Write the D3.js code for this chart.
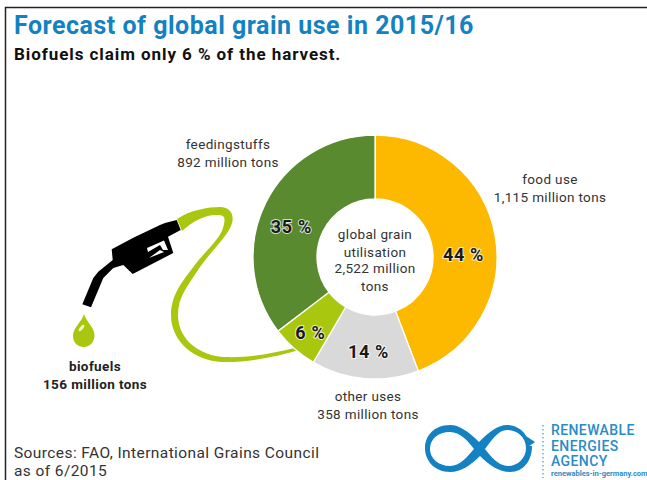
<!DOCTYPE html>
<html>
<head>
<meta charset="utf-8">
<script src="https://cdnjs.cloudflare.com/ajax/libs/d3/7.8.5/d3.min.js"></script>
<style>
html,body{margin:0;padding:0;background:#fff}
svg{display:block}
text{font-family:Roboto,"Noto Sans",sans-serif}
</style>
</head>
<body>
<svg id="chart" width="647" height="480"></svg>
<script>
// Grain use in million tons, clockwise from twelve o'clock
const categories = ["food use", "other uses", "biofuels", "feedingstuffs"];
const tons = [1115, 358, 156, 892];
const shares = ["44 %", "14 %", "6 %", "35 %"];
const tonLabels = ["1,115 million tons", "358 million tons", "156 million tons", "892 million tons"];
const hubLines = ["global grain", "utilisation", "2,522 million", "tons"];
const sourceLines = ["Sources: FAO, International Grains Council", "as of 6/2015"];
const agencyLines = ["RENEWABLE", "ENERGIES", "AGENCY"];

const sliceColors = ["#fdb900", "#d9d9d9", "#a9c70f", "#598a30"];
const blue = "#1381c2", ink = "#111", grey = "#333", hoseGreen = "#a9c70f";

const svg = d3.select("#chart");
const put = (s, x, y, size, opts = {}) => svg.append("text")
  .attr("x", x).attr("y", y).attr("font-size", size)
  .attr("font-weight", opts.weight || 400)
  .attr("fill", opts.fill || grey)
  .attr("text-anchor", opts.anchor || "start")
  .attr("letter-spacing", opts.spacing || 0)
  .text(s);

// Frame along the top and left edges
svg.append("path").attr("d", "M5.5,480V7.5H647").attr("fill", "none").attr("stroke", "#222").attr("stroke-width", 1.5);

// Headings
put("Forecast of global grain use in 2015/16", 14, 34, 25, {weight: 700, fill: blue, spacing: 0.5});
put("Biofuels claim only 6 % of the harvest.", 14, 60, 17, {weight: 700, fill: ink, spacing: 0.93});

// Donut
const cx = 375, cy = 257, outer = 122, inner = 58;
const pie = d3.pie().value(d => d).sort(null);
const arc = d3.arc().innerRadius(inner).outerRadius(outer);
const arcs = pie(tons);
const donut = svg.append("g").attr("transform", `translate(${cx},${cy})`);

// Hose runs from the nozzle into the biofuels slice, so it goes under the donut
svg.append("path").attr("fill", hoseGreen).attr("d",
  "M177,219 C190,210 208,207 220,207 C232,207 235,217 231,226 C226,238 210,252 198,270 C186,288 178,298 178,315 " +
  "C178,340 200,356 225,357 C250,358 275,353 298,347 L299,350 C275,357 245,363 222,362 C195,361 171,342 171,315 " +
  "C171,295 182,282 194,266 C206,250 222,238 224,224 C226,215 222,215 216,215 C205,215 193,221 182,231 Z");
svg.node().appendChild(donut.node());

donut.selectAll("path").data(arcs).join("path")
  .attr("d", arc)
  .attr("fill", (d, i) => sliceColors[i])
  .attr("stroke", "#fff").attr("stroke-width", 1.3);

// Percentage labels sit slightly off each slice's centroid
const shareNudge = [[0, 14], [1, 5], [-5, 9], [-3, 10]];
donut.selectAll("text.share").data(arcs).join("text")
  .attr("class", "share")
  .attr("x", (d, i) => arc.centroid(d)[0] + shareNudge[i][0])
  .attr("y", (d, i) => arc.centroid(d)[1] + shareNudge[i][1] + 6)
  .attr("text-anchor", "middle").attr("font-size", 18).attr("font-weight", 700)
  .attr("letter-spacing", 0.7)
  .attr("fill", "#1a1a1a").attr("stroke", "#fff").attr("stroke-opacity", 0.75).attr("stroke-width", 2)
  .attr("paint-order", "stroke")
  .text((d, i) => shares[i]);

// Hub text
const hubBase = [239, 257, 273, 291];
hubLines.forEach((s, i) => put(s, cx, hubBase[i], 13.5, {anchor: "middle", spacing: 0.35}));

// Category captions
const captionPos = [[550, 184], [368, 401], [95, 371], [228, 149]];
categories.forEach((c, i) => {
  const o = i === 2 ? {anchor: "middle", weight: 700, fill: "#222", spacing: 0.4} : {anchor: "middle", spacing: 0.35};
  put(c, captionPos[i][0], captionPos[i][1], 13.5, o);
  put(tonLabels[i], captionPos[i][0], captionPos[i][1] + 18, 13.5, o);
});

// Fuel nozzle
svg.append("path").attr("fill", "#000").attr("d",
  "M82.3,304.3 L91,307.3 L103.3,278 L113.3,268 L123.3,265 L132.7,274 L173.3,253 L168,236.7 L180.7,230 L176.7,220 " +
  "L165,223 L160,225 L133.3,237.7 L111.7,249.3 L112.7,260 L98.3,271.7 L93.3,278 Z");
svg.append("path").attr("fill", "#fff").attr("d", "M147,248 L164,240.5 L168,250 L163,250 L160,245 L148,252 Z");
svg.append("path").attr("fill", "#fff").attr("d", "M149,258 L160,250 L164,252 Z");

// Falling drop
svg.append("path").attr("fill", hoseGreen).attr("d",
  "M84,314 C86,322 95,327 94.5,336 C94,343 89,347 84,347 C78,347 73,343 73,336 C73,327 82,322 84,314 Z");
svg.append("ellipse").attr("cx", 81.5).attr("cy", 328).attr("rx", 1.6).attr("ry", 4)
  .attr("transform", "rotate(40 81.5 328)").attr("fill", "#eef5c8");

// Sources
sourceLines.forEach((s, i) => put(s, 14, 458 + i * 18, 15.5, {spacing: 0.41}));

// Agency logo: looped figure with two holes
svg.append("path").attr("fill", blue).attr("fill-rule", "evenodd").attr("d",
  "M479,442 C468,431 459,425 450,425 C434,425 425,436 425,448 C425,461 435,472 450,472 C461,472 471,465 480,456 " +
  "C489,465 499,472 510,472 C524,472 532,460 532,446 L529,446 C529,436 520,425 507,425 C497,425 488,433 479,442 Z " +
  "M450,432 C460,432 468,441 474,449 C467,457 460,466 450,466 C438,466 430,458 430,449 C430,439 438,432 450,432 Z " +
  "M507,430 C517,430 526,437 526,448 C526,458 518,466 508,466 C499,466 491,457 485,449 C491,441 498,430 507,430 Z");
svg.append("path").attr("fill", blue).attr("d", "M526,436 L535,442 L528,447 Z");
svg.append("line").attr("x1", 543).attr("x2", 543).attr("y1", 425).attr("y2", 478)
  .attr("stroke", "#6fb2dc").attr("stroke-width", 1.6).attr("stroke-dasharray", "1.6 2.4");
agencyLines.forEach((s, i) => put(s, 551, 435 + i * 15.5, 14, {fill: "#2a8cc7", weight: 500, spacing: 0.4}));
put("renewables-in-germany.com", 551, 476, 7.5, {fill: "#2a8cc7", weight: 700});
</script>
</body>
</html>
